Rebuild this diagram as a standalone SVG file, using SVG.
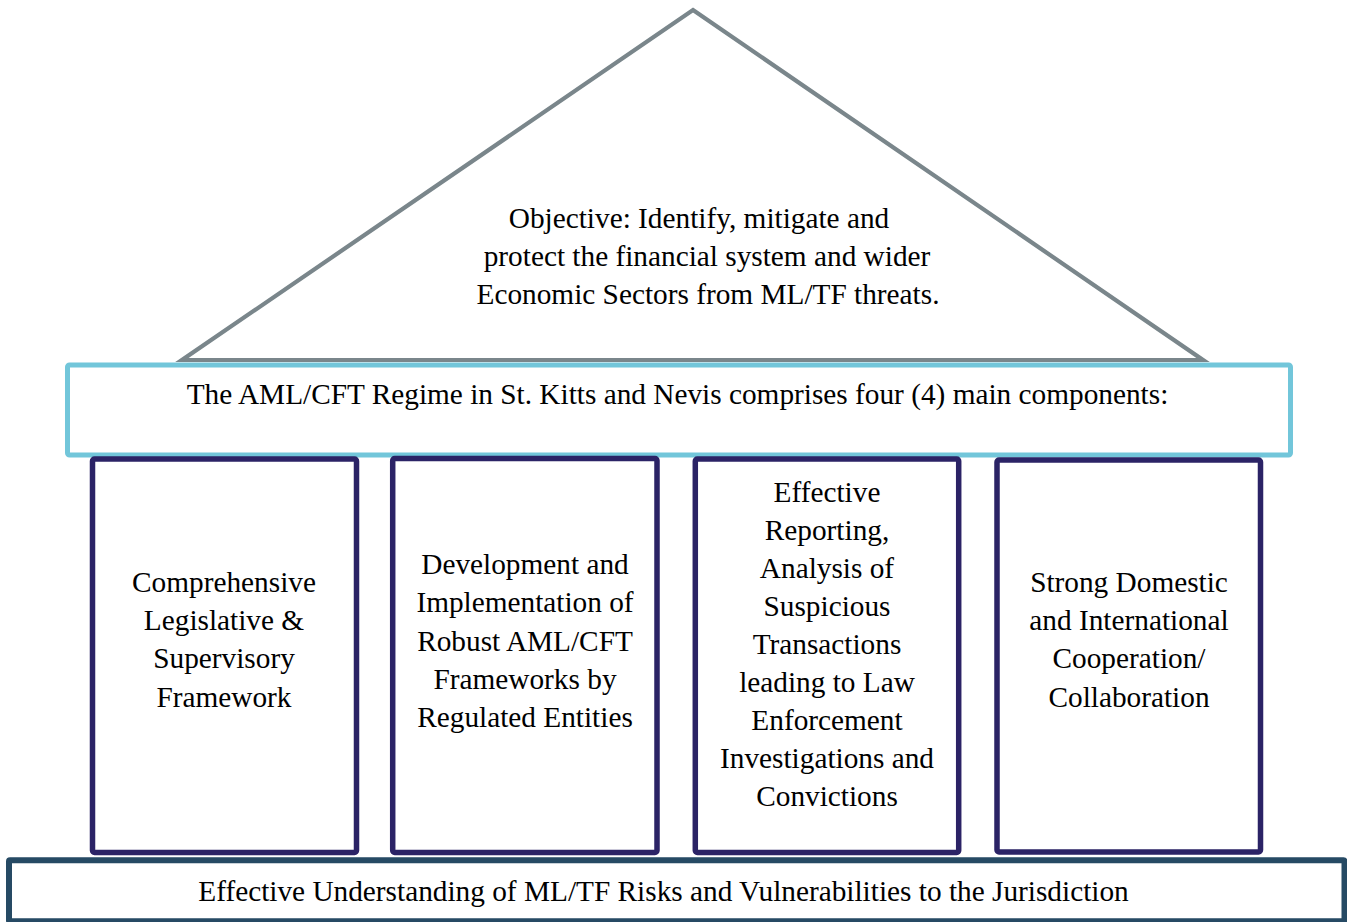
<svg xmlns="http://www.w3.org/2000/svg" width="1347" height="922" viewBox="0 0 1347 922">
<style>
text{font-family:"Liberation Serif","Times New Roman",serif;font-size:29.3px;fill:#000;text-anchor:middle}
.roof{fill:#fff;stroke:#7a868b;stroke-width:4.2;stroke-linejoin:miter}
.band{fill:#fff;stroke:#72c6da;stroke-width:5}
.pillar{fill:#fff;stroke:#2b2366;stroke-width:5.5}
.base{fill:#fff;stroke:#264a64;stroke-width:6}
</style>
<rect width="1347" height="922" fill="#fff"/>
<g id="roof">
<polygon class="roof" points="693,10 1203,360 182,360"/>
<text x="699" y="227.5">Objective: Identify, mitigate and</text>
<text x="707" y="265.5">protect the financial system and wider</text>
<text x="708" y="303.5">Economic Sectors from ML/TF threats.</text>
</g>
<g id="band">
<rect class="band" x="67.5" y="365" width="1223" height="90" rx="2"/>
<text x="677.5" y="404.3">The AML/CFT Regime in St. Kitts and Nevis comprises four (4) main components:</text>
</g>
<g id="pillar1">
<rect class="pillar" x="92.5" y="459" width="264" height="393.5" rx="2"/>
<text x="224" y="591.7">Comprehensive</text>
<text x="224" y="630">Legislative &amp;</text>
<text x="224" y="668.3">Supervisory</text>
<text x="224" y="706.6">Framework</text>
</g>
<g id="pillar2">
<rect class="pillar" x="392.7" y="458.5" width="264.3" height="394" rx="2"/>
<text x="525" y="574">Development and</text>
<text x="525" y="612.3">Implementation of</text>
<text x="525" y="650.6">Robust AML/CFT</text>
<text x="525" y="688.9">Frameworks by</text>
<text x="525" y="727.2">Regulated Entities</text>
</g>
<g id="pillar3">
<rect class="pillar" x="695.3" y="459" width="263.4" height="393.5" rx="2"/>
<text x="827" y="501.5">Effective</text>
<text x="827" y="539.5">Reporting,</text>
<text x="827" y="577.5">Analysis of</text>
<text x="827" y="615.5">Suspicious</text>
<text x="827" y="653.5">Transactions</text>
<text x="827" y="691.5">leading to Law</text>
<text x="827" y="729.5">Enforcement</text>
<text x="827" y="767.5">Investigations and</text>
<text x="827" y="805.5">Convictions</text>
</g>
<g id="pillar4">
<rect class="pillar" x="997" y="460" width="263.5" height="392" rx="2"/>
<text x="1129" y="591.7">Strong Domestic</text>
<text x="1129" y="630">and International</text>
<text x="1129" y="668.3">Cooperation/</text>
<text x="1129" y="706.6">Collaboration</text>
</g>
<g id="base">
<rect class="base" x="9" y="860.3" width="1335.5" height="61" rx="1"/>
<text x="663.5" y="900.5">Effective Understanding of ML/TF Risks and Vulnerabilities to the Jurisdiction</text>
</g>
<g id="connectors"></g>
</svg>
